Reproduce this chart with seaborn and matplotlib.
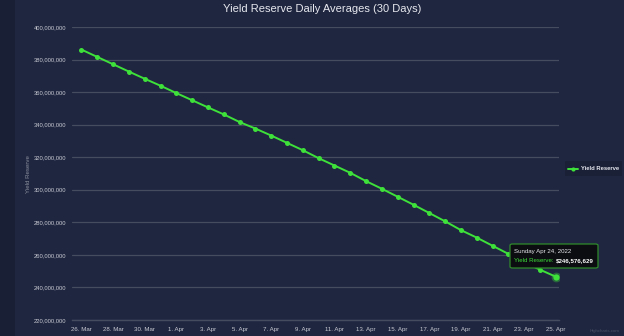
import matplotlib
matplotlib.use("Agg")
import matplotlib.pyplot as plt
import seaborn as sns
import pandas as pd
import numpy as np
from matplotlib.patches import Rectangle, FancyBboxPatch

dates = ["26. Mar", "27. Mar", "28. Mar", "29. Mar", "30. Mar", "31. Mar",
         "1. Apr", "2. Apr", "3. Apr", "4. Apr", "5. Apr", "6. Apr", "7. Apr",
         "8. Apr", "9. Apr", "10. Apr", "11. Apr", "12. Apr", "13. Apr",
         "14. Apr", "15. Apr", "16. Apr", "17. Apr", "18. Apr", "19. Apr",
         "20. Apr", "21. Apr", "22. Apr", "23. Apr", "24. Apr", "25. Apr"]
yield_reserve = [386.1, 381.6, 377.1, 372.6, 368.2, 363.9, 359.4, 355.0,
                 350.6, 346.3, 341.6, 337.6, 333.3, 328.8, 324.3, 319.4,
                 314.9, 310.4, 305.3, 300.6, 295.7, 290.8, 285.7, 280.6,
                 275.2, 270.6, 265.6, 260.6, 255.5, 250.9, 246.576629]
yield_reserve = [v * 1e6 for v in yield_reserve]
y_ticks = [220e6, 240e6, 260e6, 280e6, 300e6, 320e6, 340e6, 360e6, 380e6, 400e6]

BG = "#1f2640"
STRIP = "#192036"
GRID = "#464c60"
GREEN = "#3ee03a"
TXT = "#c8cad2"

df = pd.DataFrame({"day": np.arange(len(dates)), "value": yield_reserve})

sns.set_theme(style="dark")
plt.rcParams['font.family'] = ['Liberation Sans', 'DejaVu Sans']

fig = plt.figure(figsize=(6.24, 3.36), dpi=100, facecolor=BG)
fig.patches.append(Rectangle((0, 0), 15 / 624, 1, transform=fig.transFigure,
                             facecolor=STRIP, edgecolor="none", zorder=0))
ax = fig.add_axes([72 / 624, 1 - 320 / 336, (559 - 72) / 624, (320 - 27) / 336])
ax.set_facecolor(BG)

sns.lineplot(data=df, x="day", y="value", ax=ax, color=GREEN, linewidth=1.4,
             marker="o", markersize=3.6, markeredgewidth=0, label="Yield Reserve",
             legend=False, zorder=3)

ax.set_xlim(-0.6, 30.2)
ax.set_ylim(220e6, 400e6)
ax.set_yticks(y_ticks)
ax.set_yticklabels([f"{int(v):,}" for v in y_ticks], fontsize=4.2, color=TXT)
ax.set_xticks(df["day"][::2])
ax.set_xticklabels(dates[::2], fontsize=4.4, color=TXT)
ax.tick_params(axis="y", length=0, pad=4)
ax.tick_params(axis="x", length=3, width=0.7, color=GRID, pad=2, direction="out")
ax.yaxis.grid(True, color=GRID, linewidth=0.9)
ax.xaxis.grid(False)
for s in ["top", "right", "left"]:
    ax.spines[s].set_visible(False)
ax.spines["bottom"].set_color(GRID)
ax.spines["bottom"].set_linewidth(1.0)
ax.set_xlabel("")
ax.set_ylabel("")
fig.text(28 / 624, 1 - 174 / 336, "Yield Reserve", rotation=90, ha="center",
         va="center", fontsize=4.4, color="#8a8e9c")

fig.text(322 / 624, 1 - 9 / 336, "Yield Reserve Daily Averages (30 Days)",
         ha="center", va="center", fontsize=8, color="#e6e8ee")

# legend
fig.patches.append(FancyBboxPatch((565 / 624, 1 - 176 / 336), 57 / 624, 15 / 336,
                                  boxstyle="square,pad=0", transform=fig.transFigure,
                                  facecolor="#1a2036", edgecolor="none", zorder=1))
fig.lines.append(plt.Line2D([568 / 624, 578 / 624], [1 - 168.5 / 336] * 2,
                            transform=fig.transFigure, color=GREEN, linewidth=1.4))
fig.lines.append(plt.Line2D([573 / 624], [1 - 168.5 / 336],
                            transform=fig.transFigure, color=GREEN, marker="o",
                            markersize=3, markeredgewidth=0))
fig.text(581 / 624, 1 - 168.5 / 336, "Yield Reserve", ha="left", va="center",
         fontsize=4.2, color="#e6e8ee", fontweight="bold")

# highlighted last point
ax.plot([df["day"].iloc[-1]], [yield_reserve[-1]], marker="o", markersize=7,
        color=GREEN, alpha=0.35, markeredgewidth=0, zorder=4)
ax.plot([df["day"].iloc[-1]], [yield_reserve[-1]], marker="o", markersize=4.5,
        color=GREEN, markeredgewidth=0, zorder=5)

# tooltip
fig.patches.append(FancyBboxPatch((510 / 624, 1 - 268 / 336), 88 / 624, 24 / 336,
                                  boxstyle="round,pad=0,rounding_size=0.004",
                                  transform=fig.transFigure, facecolor="#0b0d10",
                                  edgecolor="#2f8a2c", linewidth=0.9, zorder=6))
fig.text(514 / 624, 1 - 252 / 336, "Sunday Apr 24, 2022", ha="left", va="center",
         fontsize=4.4, color="#e6e8ee", zorder=7)
t1 = fig.text(514 / 624, 1 - 261 / 336, "Yield Reserve: ", ha="left", va="center",
              fontsize=4.4, color=GREEN, zorder=7)
fig.canvas.draw()
bb = t1.get_window_extent()
fig.text(bb.x1 / fig.bbox.width + 1 / 624, 1 - 261 / 336, "$246,576,629",
         ha="left", va="center", fontsize=4.4, color="#ffffff",
         fontweight="bold", zorder=7)

fig.text(620 / 624, 1 - 331 / 336, "Highcharts.com", ha="right", va="center",
         fontsize=3.2, color="#4a5064")

fig.savefig("out.png", dpi=100, facecolor=BG)
